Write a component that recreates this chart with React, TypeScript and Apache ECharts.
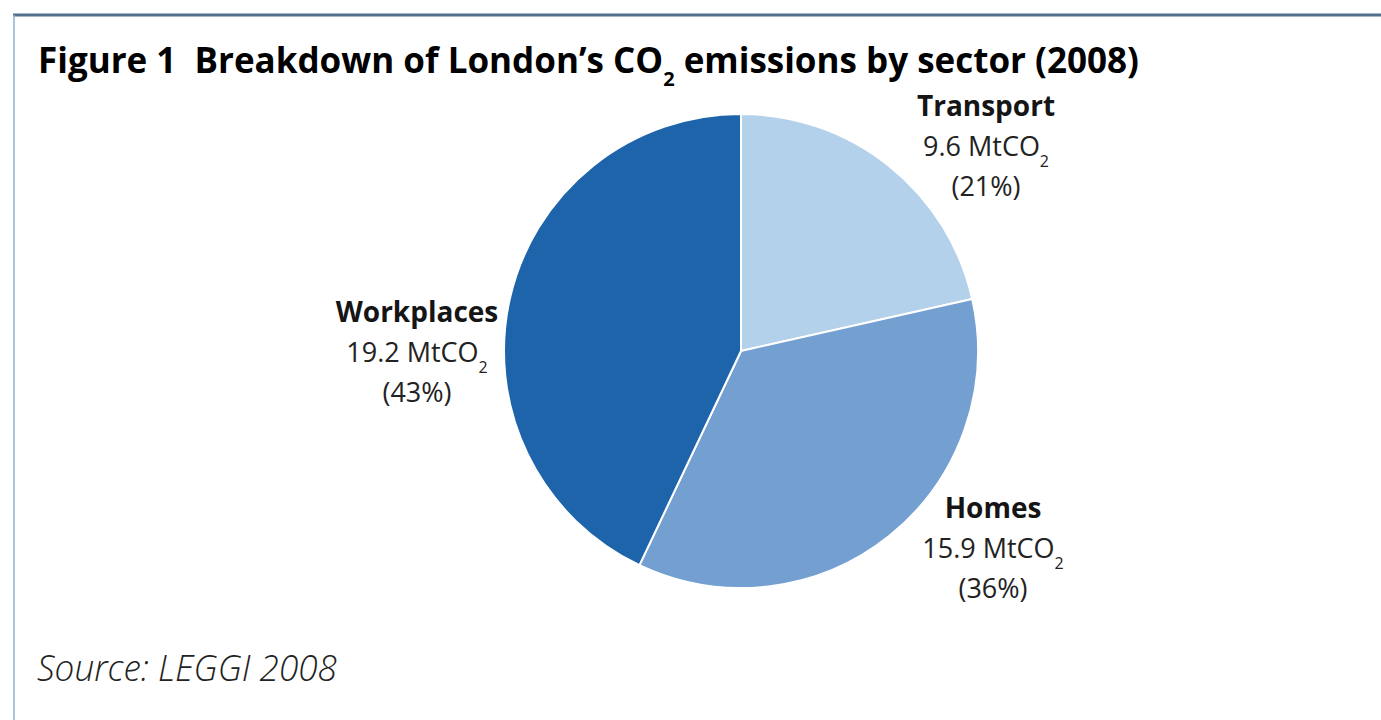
import React, { useEffect, useRef } from "react";
import * as echarts from "echarts";

const SECTORS = ["Transport", "Homes", "Workplaces"];
const EMISSIONS = [9.6, 15.9, 19.2];
const PERCENTS = [21, 36, 43];
const COLORS = ["#b4d1eb", "#739fd1", "#1e64ab"];
const TITLE_PREFIX = "Figure 1  Breakdown of London\u2019s CO";
const TITLE_SUFFIX = " emissions by sector (2008)";
const SOURCE = "Source: LEGGI 2008";

const FONT = "'Open Sans', 'Noto Sans', sans-serif";
const CX = 741;
const CY = 351;
const R = 237;
// label block centre offsets from pie centre (layout)
const LABEL_OFFSETS: [number, number][] = [
  [245, -206],
  [252, 196],
  [-324, 0],
];

export default function App() {
  const ref = useRef<HTMLDivElement>(null);
  useEffect(() => {
    if (!ref.current) return;
    const chart = echarts.init(ref.current, undefined, { renderer: "svg" });
    const labelRich = {
      name: { fontFamily: FONT, fontWeight: "bold", fontSize: 28, color: "#151515", lineHeight: 40 },
      val: { fontFamily: FONT, fontSize: 27, color: "#222", lineHeight: 40 },
      sub: {
        fontFamily: FONT,
        fontSize: 16,
        color: "#222",
        lineHeight: 8,
        verticalAlign: "top",
        padding: [28, 0, 0, 0],
      },
      pct: { fontFamily: FONT, fontSize: 27, color: "#222", lineHeight: 40 },
    };
    chart.setOption({
      animation: false,
      backgroundColor: "#ffffff",
      graphic: [
        {
          type: "line",
          shape: { x1: 13, y1: 15, x2: 1381, y2: 15 },
          style: { stroke: "#50708e", lineWidth: 3 },
        },
        {
          type: "line",
          shape: { x1: 14, y1: 15, x2: 14, y2: 720 },
          style: { stroke: "#8fb0d3", lineWidth: 1.5 },
        },
        {
          type: "text",
          x: 38,
          y: 59,
          style: {
            text: `{t|${TITLE_PREFIX}}{s|2}{t|${TITLE_SUFFIX}}`,
            verticalAlign: "middle",
            rich: {
              t: { fontFamily: FONT, fontWeight: "bold", fontSize: 35, color: "#111", lineHeight: 44 },
              s: {
                fontFamily: FONT,
                fontWeight: "bold",
                fontSize: 20,
                color: "#111",
                lineHeight: 8,
                verticalAlign: "top",
                padding: [31, 0, 0, 0],
              },
            },
          },
        },
        {
          type: "text",
          x: 37,
          y: 667,
          scaleX: 0.95,
          style: {
            text: SOURCE,
            fontFamily: FONT,
            fontStyle: "italic",
            fontWeight: 300,
            fontSize: 37,
            fill: "#222",
            verticalAlign: "middle",
          },
        },
      ],
      series: [
        {
          type: "pie",
          center: [CX, CY],
          radius: R,
          startAngle: 90,
          clockwise: true,
          itemStyle: { borderColor: "#ffffff", borderWidth: 2 },
          labelLine: { show: false },
          label: {
            show: true,
            position: "outside",
            align: "center",
            formatter: (p: any) =>
              `{name|${p.name}}\n{val|${EMISSIONS[p.dataIndex].toFixed(1)} MtCO}{sub|2}\n{pct|(${PERCENTS[p.dataIndex]}%)}`,
            rich: labelRich,
          },
          labelLayout: (p: any) => {
            const o = LABEL_OFFSETS[p.dataIndex];
            return { x: CX + o[0], y: CY + o[1], align: "center", verticalAlign: "middle" };
          },
          emphasis: { disabled: true },
          data: SECTORS.map((s, i) => ({
            name: s,
            value: EMISSIONS[i],
            itemStyle: { color: COLORS[i] },
          })),
        },
      ],
    });
    return () => chart.dispose();
  }, []);
  return (
    <div
      ref={ref}
      style={{ position: "fixed", left: 0, top: 0, width: 1381, height: 720, background: "#fff" }}
    />
  );
}
